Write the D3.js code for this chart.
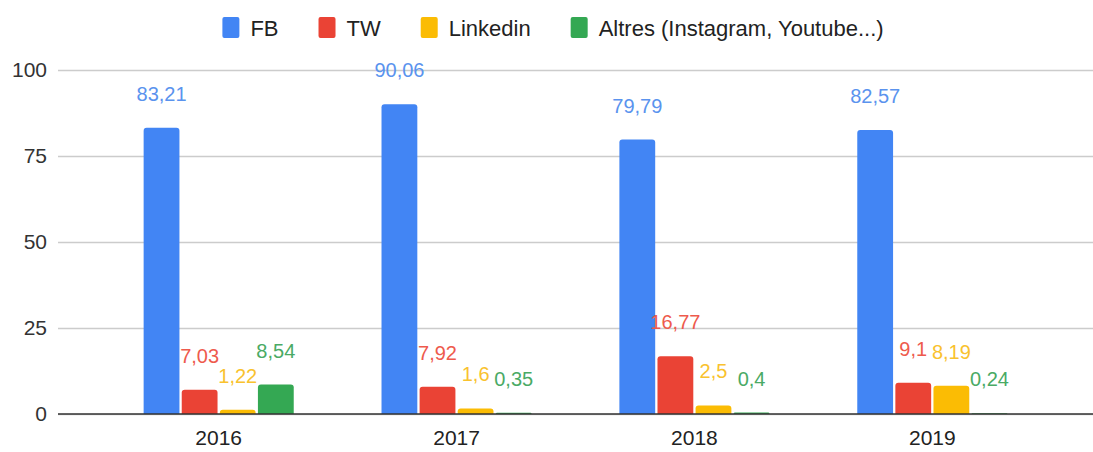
<!DOCTYPE html>
<html>
<head>
<meta charset="utf-8">
<script src="https://cdn.jsdelivr.net/npm/d3@7/dist/d3.min.js"></script>
<style>
  html, body { margin: 0; padding: 0; background: #fff; }
  svg { display: block; font-family: "Liberation Sans", Arial, sans-serif; }
</style>
</head>
<body>
<svg id="chart" width="1093" height="452"></svg>
<script>
const years = ["2016", "2017", "2018", "2019"];
const seriesNames = ["FB", "TW", "Linkedin", "Altres (Instagram, Youtube...)"];
const fbValues = [83.21, 90.06, 79.79, 82.57];
const twValues = [7.03, 7.92, 16.77, 9.1];
const linkedinValues = [1.22, 1.6, 2.5, 8.19];
const altresValues = [8.54, 0.35, 0.4, 0.24];
const yTicks = [0, 25, 50, 75, 100];
const seriesColors = ["#4285f4", "#ea4335", "#fbbc04", "#34a853"];
const labelColors = ["#5a93ee", "#ee5a4d", "#f9c22e", "#4aaa65"];

const seriesValues = [fbValues, twValues, linkedinValues, altresValues];

const W = 1093, H = 452;
const plot = { left: 58, right: 1093, top: 70, bottom: 414 };

const svg = d3.select("#chart");

const y = d3.scaleLinear().domain([0, 100]).range([plot.bottom, plot.top]);
const x0 = d3.scaleBand().domain(years).range([plot.left, plot.right])
  .paddingInner(0.369).paddingOuter(0.36);
const x1 = d3.scaleBand().domain(d3.range(seriesNames.length)).range([0, x0.bandwidth()])
  .paddingInner(0.06);

// gridlines
const yAxis = d3.axisLeft(y).tickValues(yTicks).tickSize(-(plot.right - plot.left)).tickPadding(11);
const gy = svg.append("g").attr("transform", `translate(${plot.left},0)`).call(yAxis);
gy.select(".domain").remove();
gy.selectAll(".tick line").attr("stroke", "#cccccc").attr("stroke-width", 1.5);
gy.selectAll(".tick text").attr("fill", "#333").attr("font-size", 21)
  .attr("font-family", "'Liberation Sans', Arial, sans-serif");

// bars
const groups = svg.append("g").selectAll("g").data(years).join("g")
  .attr("transform", d => `translate(${x0(d)},0)`);

groups.each(function(yr, yi) {
  const g = d3.select(this);
  seriesValues.forEach((vals, si) => {
    const v = vals[yi];
    const top = y(v);
    const h = plot.bottom - top;
    g.append("path")
      .attr("d", () => {
        const bx = x1(si), bw = x1.bandwidth();
        const r = Math.min(3, h);
        return `M${bx},${plot.bottom} V${top + r} Q${bx},${top} ${bx + r},${top} H${bx + bw - r} Q${bx + bw},${top} ${bx + bw},${top + r} V${plot.bottom} Z`;
      })
      .attr("fill", seriesColors[si]);
  });
});

// baseline
svg.append("line").attr("x1", plot.left).attr("x2", plot.right)
  .attr("y1", y(0)).attr("y2", y(0)).attr("stroke", "#333").attr("stroke-width", 1.5);

// value labels
const fmt = v => String(v).replace(".", ",");
groups.each(function(yr, yi) {
  const g = d3.select(this);
  seriesValues.forEach((vals, si) => {
    const v = vals[yi];
    g.append("text")
      .attr("x", x1(si) + x1.bandwidth() / 2)
      .attr("y", y(v) - 27)
      .attr("text-anchor", "middle")
      .attr("font-size", 20)
      .attr("fill", labelColors[si])
      .text(fmt(v));
  });
});

// x axis labels
const xAxis = d3.axisBottom(x0).tickSize(0).tickPadding(16);
const gx = svg.append("g").attr("transform", `translate(0,${plot.bottom})`).call(xAxis);
gx.select(".domain").remove();
gx.selectAll(".tick text").attr("fill", "#222").attr("font-size", 21)
  .attr("font-family", "'Liberation Sans', Arial, sans-serif");

// legend
const legend = svg.append("g");
let lx = 0;
const sq = 17, sqH = 21, gapText = 11, gapItem = 40;
seriesNames.forEach((name, i) => {
  const item = legend.append("g").attr("transform", `translate(${lx},0)`);
  item.append("rect").attr("x", 0).attr("y", 17).attr("width", sq).attr("height", sqH)
    .attr("rx", 2).attr("fill", seriesColors[i]);
  const t = item.append("text").attr("x", sq + gapText).attr("y", 35.5)
    .attr("font-size", 22).attr("fill", "#222").text(name);
  lx += sq + gapText + t.node().getComputedTextLength() + gapItem;
});
const legW = lx - gapItem;
legend.attr("transform", `translate(${553 - legW / 2},0)`);
</script>
</body>
</html>
